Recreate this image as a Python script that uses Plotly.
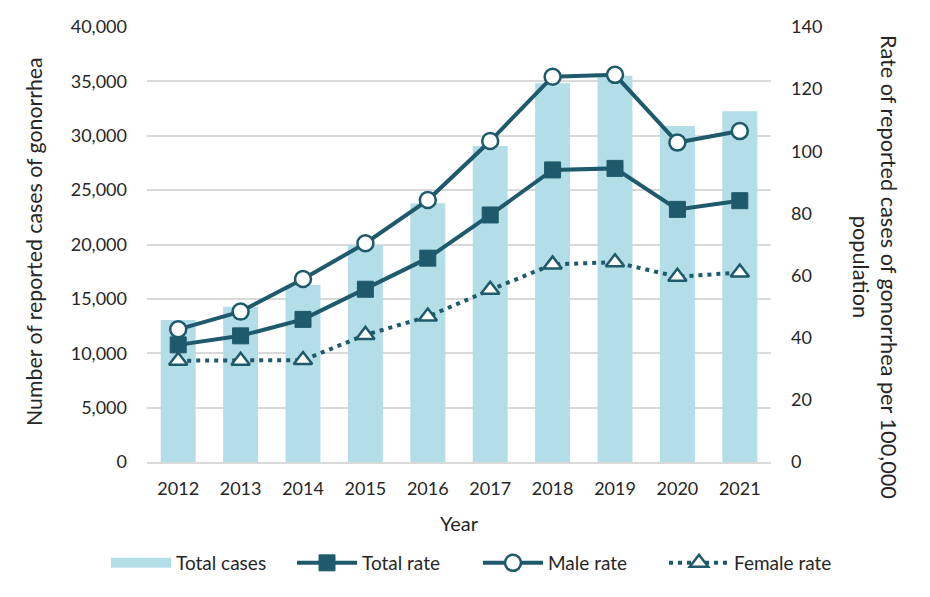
import plotly.graph_objects as go

years = ["2012", "2013", "2014", "2015", "2016", "2017", "2018", "2019", "2020", "2021"]
total_cases = [13060, 14280, 16280, 19950, 23790, 29060, 34820, 35520, 30900, 32250]
total_rate = [37.7, 40.6, 45.9, 55.6, 65.6, 79.5, 94.0, 94.5, 81.3, 84.1]
male_rate = [42.7, 48.4, 58.9, 70.4, 84.3, 103.3, 124.0, 124.6, 102.8, 106.5]
female_rate = [32.6, 32.6, 32.8, 40.9, 46.8, 55.4, 63.6, 64.3, 59.6, 61.0]

left_title = "Number of reported cases of gonorrhea"
right_title = "Rate of reported cases of gonorrhea per 100,000<br>population"

DARK = "#1e5a6b"
LIGHT = "#b3dde7"
GRID = "#d9d9d9"
FONT = "Lato"
TXT = "#262626"

# page has an 8px body margin; target plot area in page px: x 147..771, y 27..462
OFF = 8
L, T = 147 - OFF, 27 - OFF
W, H = 624, 435
R = 930 - (L + W)
B = 597 - (T + H)

fig = go.Figure()
fig.add_trace(go.Bar(x=years, y=total_cases, name="Total cases", marker=dict(color=LIGHT, line=dict(width=0)),
                     width=0.56, yaxis="y", showlegend=False))
# legend swatch for the bars (wide rectangle, as in the reference)
fig.add_trace(go.Scatter(x=[None], y=[None], name="Total cases", mode="lines",
                         line=dict(color=LIGHT, width=14), yaxis="y"))
fig.add_trace(go.Scatter(x=years, y=total_rate, name="Total rate", yaxis="y2", mode="lines+markers",
                         line=dict(color=DARK, width=4),
                         marker=dict(symbol="square", size=16, color=DARK, line=dict(color=DARK, width=1))))
fig.add_trace(go.Scatter(x=years, y=male_rate, name="Male rate", yaxis="y2", mode="lines+markers",
                         line=dict(color=DARK, width=4),
                         marker=dict(symbol="circle", size=16, color="white", line=dict(color=DARK, width=2.5))))
fig.add_trace(go.Scatter(x=years, y=female_rate, name="Female rate", yaxis="y2", mode="lines+markers",
                         line=dict(color=DARK, width=4, dash="4px,5px"),
                         marker=dict(symbol="triangle-up", size=16, color="white", line=dict(color=DARK, width=2.5))))

fig.update_layout(
    width=930, height=597,
    margin=dict(l=L, r=R, t=T, b=B, autoexpand=False),
    paper_bgcolor="white", plot_bgcolor="white",
    font=dict(family=FONT, size=18, color=TXT),
    bargap=0.44,
    xaxis=dict(type="category", range=[-0.5, 9.5], showgrid=False, showline=True, linecolor=GRID, linewidth=1.5,
               ticks="", tickfont=dict(size=18, color=TXT), ticklabelstandoff=10, automargin=False,
               title=dict(text="Year", font=dict(size=20, color=TXT), standoff=19)),
    yaxis=dict(range=[0, 40000], dtick=5000, tickformat=",", showgrid=True, gridcolor=GRID, gridwidth=1.5,
               zeroline=False, showline=False, ticks="", ticklabelstandoff=19, automargin=False,
               tickfont=dict(size=18, color=TXT)),
    yaxis2=dict(range=[0, 140], dtick=20, overlaying="y", side="right", showgrid=False, zeroline=False,
                showline=False, ticks="", ticklabelstandoff=19, automargin=False,
                tickfont=dict(size=18, color=TXT)),
    legend=dict(orientation="h", x=(106 - 147) / W, xanchor="left",
                y=(462 - 563) / H, yanchor="middle",
                font=dict(size=19, color=TXT), traceorder="normal", itemwidth=60, entrywidth=111),
    showlegend=True,
)

fig.add_annotation(text=left_title, textangle=-90, xref="paper", yref="paper",
                   x=(34 - 147) / W, y=(462 - 242) / H, xanchor="center", yanchor="middle",
                   showarrow=False, font=dict(size=21.3, color=TXT))
fig.add_annotation(text=right_title, textangle=90, xref="paper", yref="paper",
                   x=(875 - 147) / W, y=(462 - 267) / H, xanchor="center", yanchor="middle",
                   showarrow=False, font=dict(size=21.7, color=TXT))

fig.write_html("out.html")
